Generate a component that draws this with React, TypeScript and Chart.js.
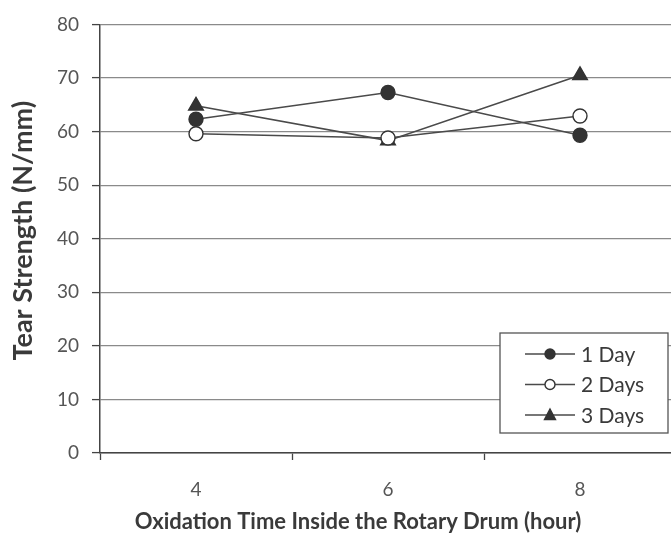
import React, { useEffect, useRef } from 'react';
import { Chart, registerables } from 'chart.js';

Chart.register(...registerables);

const categories = ['4', '6', '8'];
const seriesLabels = ['1 Day', '2 Days', '3 Days'];
const day1 = [62.3, 67.3, 59.3];
const day2 = [59.6, 58.8, 62.9];
const day3 = [64.8, 58.3, 70.5];
const yMin = 0;
const yMax = 80;
const yStep = 10;
const xTitle = 'Oxidation Time Inside the Rotary Drum (hour)';
const yTitle = 'Tear Strength (N/mm)';

const FONT = 'Lato, "Open Sans", sans-serif';
const INK = '#3a3a3a';

const legendPlugin = {
  id: 'insideLegend',
  afterDraw(chart: any) {
    const { ctx, chartArea } = chart;
    const right = chartArea.right - 8;
    const bottom = chartArea.bottom - 20;
    const w = 168;
    const h = 100;
    const left = right - w;
    const top = bottom - h;
    ctx.save();
    ctx.fillStyle = '#ffffff';
    ctx.fillRect(left, top, w, h);
    ctx.strokeStyle = '#555';
    ctx.lineWidth = 1.3;
    ctx.strokeRect(left, top, w, h);
    chart.data.datasets.forEach((ds: any, i: number) => {
      const y = top + 21 + i * 30.5;
      const x0 = left + 25;
      const x1 = left + 75;
      const xm = (x0 + x1) / 2;
      ctx.strokeStyle = ds.borderColor;
      ctx.lineWidth = 1.6;
      ctx.beginPath();
      ctx.moveTo(x0, y);
      ctx.lineTo(x1, y);
      ctx.stroke();
      ctx.fillStyle = ds.pointBackgroundColor;
      ctx.strokeStyle = ds.pointBorderColor;
      ctx.lineWidth = 1.4;
      const r = 5;
      ctx.beginPath();
      if (ds.pointStyle === 'triangle') {
        ctx.moveTo(xm, y - r - 1);
        ctx.lineTo(xm + r + 0.5, y + r - 0.5);
        ctx.lineTo(xm - r - 0.5, y + r - 0.5);
        ctx.closePath();
      } else {
        ctx.arc(xm, y, r, 0, Math.PI * 2);
      }
      ctx.fill();
      ctx.stroke();
      ctx.fillStyle = INK;
      ctx.font = `21px ${FONT}`;
      ctx.textBaseline = 'middle';
      ctx.textAlign = 'left';
      ctx.fillText(ds.label, x1 + 6, y + 1);
    });
    ctx.restore();
  },
};

const titlesPlugin = {
  id: 'axisTitles',
  afterDraw(chart: any) {
    const { ctx, chartArea } = chart;
    ctx.save();
    ctx.fillStyle = INK;
    ctx.textAlign = 'center';
    ctx.textBaseline = 'middle';
    ctx.font = `bold 22px ${FONT}`;
    ctx.fillText(xTitle, (chartArea.left + chartArea.right) / 2 - 30, chart.height - 18);
    ctx.translate(23, (chartArea.top + chartArea.bottom) / 2 - 8);
    ctx.rotate(-Math.PI / 2);
    ctx.font = `bold 27px ${FONT}`;
    ctx.fillText(yTitle, 0, 0);
    ctx.restore();
  },
};

export default function App() {
  const ref = useRef<HTMLCanvasElement | null>(null);

  useEffect(() => {
    if (!ref.current) return;
    const mk = (label: string, data: number[], style: string, fill: string, radius: number) => ({
      label,
      data,
      borderColor: '#4a4a4a',
      borderWidth: 1.6,
      pointStyle: style,
      pointRadius: radius,
      pointBackgroundColor: fill,
      pointBorderColor: '#333',
      pointBorderWidth: 1.4,
      tension: 0,
      fill: false,
    });
    const chart = new Chart(ref.current, {
      type: 'line',
      data: {
        labels: categories,
        datasets: [
          mk(seriesLabels[0], day1, 'circle', '#333', 7),
          mk(seriesLabels[1], day2, 'circle', '#ffffff', 7),
          mk(seriesLabels[2], day3, 'triangle', '#333', 8.5),
        ],
      },
      options: {
        animation: false,
        responsive: false,
        devicePixelRatio: 1,
        layout: { padding: { top: 23, right: 14, left: 0, bottom: 0 } },
        plugins: {
          legend: { display: false },
          tooltip: { enabled: false },
        },
        scales: {
          x: {
            type: 'category',
            offset: true,
            grid: {
              offset: true,
              drawOnChartArea: false,
              drawTicks: true,
              tickLength: 7,
              tickColor: '#444',
              tickWidth: 1.3,
            },
            border: { color: '#444', width: 1.5 },
            ticks: {
              color: '#555',
              font: { family: FONT, size: 19 },
              padding: 18,
            },
            title: { display: false },
            afterFit: (s: any) => {
              s.height = 87;
            },
          },
          y: {
            min: yMin,
            max: yMax,
            ticks: {
              stepSize: yStep,
              color: '#555',
              font: { family: FONT, size: 19 },
              padding: 13,
            },
            grid: {
              color: '#8a8a8a',
              lineWidth: 1.2,
              tickLength: 8,
              tickColor: '#444',
              tickWidth: 1.3,
            },
            border: { color: '#444', width: 1.5 },
            title: { display: false },
            afterFit: (s: any) => {
              s.width = 100;
            },
          },
        },
      },
      plugins: [legendPlugin, titlesPlugin],
    } as any);
    return () => chart.destroy();
  }, []);

  return (
    <div
      style={{
        position: 'fixed',
        left: 0,
        top: 0,
        width: 671,
        height: 540,
        overflow: 'hidden',
        background: '#fff',
      }}
    >
      <canvas ref={ref} width={690} height={540} style={{ width: 690, height: 540, display: 'block' }} />
    </div>
  );
}
